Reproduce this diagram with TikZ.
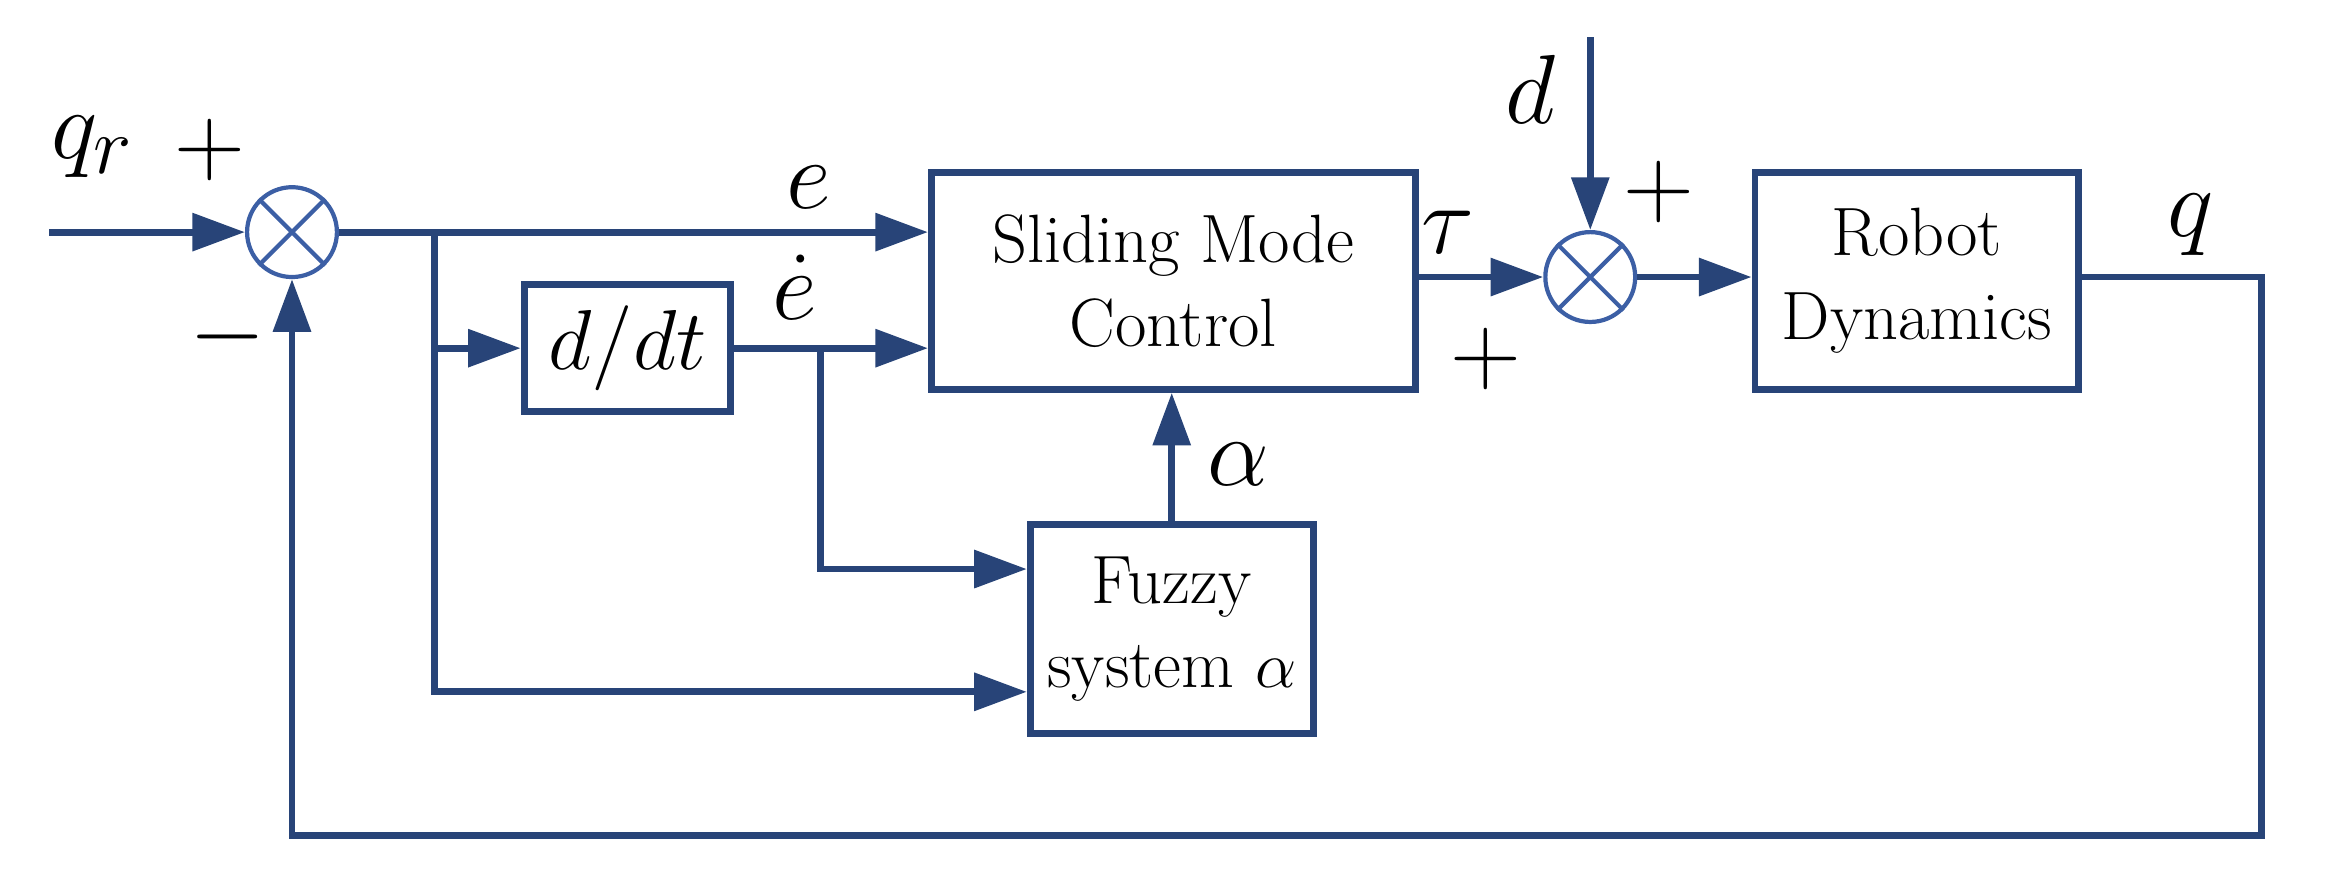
\documentclass[tikz,border=0pt]{standalone}
\usetikzlibrary{arrows.meta}
\definecolor{nv}{RGB}{40,68,120}
\definecolor{sc}{RGB}{60,95,165}
\begin{document}
\begin{tikzpicture}[x=0.02cm,y=-0.02cm,
  ln/.style={line width=2.6pt,draw=nv},
  arr/.style={ln,-{Triangle[length=20pt,width=14pt]}},
  xl/.style={line width=1.6pt,draw=sc},
  blk/.style={draw=nv,line width=2.6pt,inner sep=0pt,font=\fontsize{26}{32}\selectfont,align=center},
  sum/.style={circle,draw=sc,line width=1.6pt,minimum size=60*0.02cm,inner sep=0pt},
  lab/.style={font=\fontsize{24.88}{30}\selectfont,scale=1.5,transform shape}]
\useasboundingbox (0,0) rectangle (1560,593);
\node[sum] (s1) at (195,155) {};
\draw[xl] (s1.north east)--(s1.south west) (s1.north west)--(s1.south east);
\node[sum] (s2) at (1062,185) {};
\draw[xl] (s2.north east)--(s2.south west) (s2.north west)--(s2.south east);
\node[blk,minimum width=323*0.02cm,minimum height=145*0.02cm] (smc) at (783.5,187.5) {Sliding Mode\\Control};
\node[blk,minimum width=138*0.02cm,minimum height=85*0.02cm] (dd) at (419,232.5) {\scalebox{1.3}{$d/dt$}};
\node[blk,minimum width=189*0.02cm,minimum height=140*0.02cm] (fz) at (782.5,420) {Fuzzy\\system $\alpha$};
\node[blk,minimum width=216*0.02cm,minimum height=145*0.02cm] (rb) at (1280,187.5) {Robot\\Dynamics};
\coordinate (in) at (33,155);
\coordinate (b1) at (290,155);
\coordinate (b2) at (548,235);
\coordinate (dtop) at (1062,25);
\coordinate (qc) at (1510,185);
\coordinate (qb) at (1510,558);
\coordinate (sb) at (195,558);
\draw[arr] (in) -- (s1.west);
\draw[arr] (s1.east) -- (smc.west |- s1);
\draw[arr] (b1) |- (dd.west);
\draw[arr] (b1) |- (fz.west |- 0,462);
\draw[arr] (dd.east) -- (smc.west |- dd);
\draw[arr] (b2) |- (fz.west |- 0,380);
\draw[arr] (fz.north) -- (smc.south -| fz.north);
\draw[arr] (smc.east |- s2) -- (s2.west);
\draw[arr] (dtop) -- (s2.north);
\draw[arr] (s2.east) -- (rb.west |- s2);
\draw[arr] (rb.east |- qc) -- (qc) -- (qb) -- (sb) -- (s1.south);
\node[lab] (l1) at (62,98) {$q_r$};
\node[lab] (l2) at (140,100) {$+$};
\node[lab] (l3) at (152,225) {$-$};
\node[lab] (l4) at (540,125) {$e$};
\node[lab] (l5) at (531,192) {$\dot e$};
\node[lab] (l6) at (967,155) {$\tau$};
\node[lab] (l7) at (992,240) {$+$};
\node[lab] (l8) at (1022,60) {$d$};
\node[lab] (l9) at (1108,128) {$+$};
\node[lab] (l10) at (827,310) {$\alpha$};
\node[lab] (l11) at (1463,150) {$q$};
\end{tikzpicture}
\end{document}
